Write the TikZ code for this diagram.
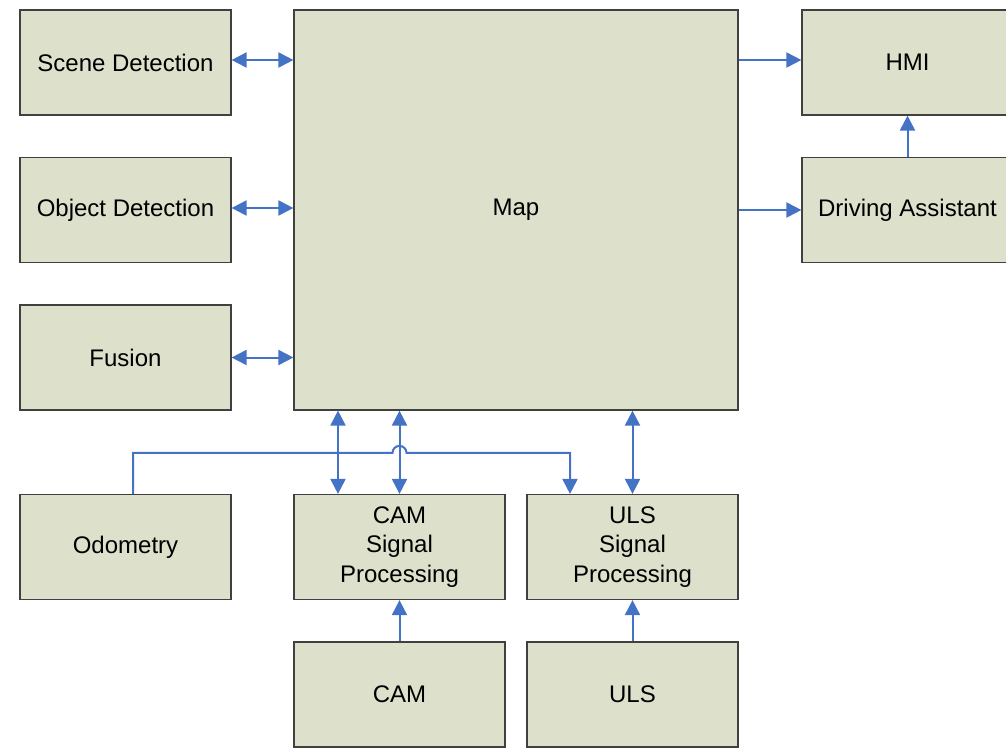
\documentclass[tikz,border=0pt]{standalone}
\usepackage{fontspec}
\setmainfont{Liberation Sans}
\usetikzlibrary{arrows.meta,calc}
\definecolor{boxfill}{RGB}{221,224,203}
\definecolor{boxline}{RGB}{64,64,64}
\definecolor{arrowblue}{RGB}{68,114,196}
\tikzset{
  blk/.style={draw=boxline, fill=boxfill, line width=1.2pt, inner sep=0pt,
    minimum width=211pt, minimum height=105pt, align=center,
    font=\fontsize{24}{29.5}\selectfont},
  conn/.style={draw=arrowblue, line width=2pt},
  one/.style={conn, -{Triangle[length=15pt,width=15pt]}},
  two/.style={conn, {Triangle[length=15pt,width=15pt]}-{Triangle[length=15pt,width=15pt]}},
}
\begin{document}
\begin{tikzpicture}[x=1pt,y=-1pt]
\useasboundingbox (0,0) rectangle (1006,748);
\clip (0,0) rectangle (1006,748);
\node[blk] (scene) at (125.5,62.5) {Scene Detection};
\node[blk] (obj) at (125.5,210) {Object Detection};
\node[blk] (fus) at (125.5,357.5) {Fusion};
\node[blk, minimum width=444pt, minimum height=400pt] (map) at (516,210) {Map};
\node[blk] (hmi) at (907.5,62.5) {HMI};
\node[blk] (da) at (907.5,210) {Driving Assistant};
\node[blk] (odo) at (125.5,547) {Odometry};
\node[blk] (camsp) at (399.5,547) {CAM\\Signal\\Processing};
\node[blk] (ulssp) at (632.5,547) {ULS\\Signal\\Processing};
\node[blk] (cam) at (399.5,694.5) {CAM};
\node[blk] (uls) at (632.5,694.5) {ULS};
% left bidirectional
\draw[two] ([yshift=2.5pt]scene.east) -- ([yshift=2.5pt]scene.east -| map.west);
\draw[two] ([yshift=2pt]obj.east) -- ([yshift=2pt]obj.east -| map.west);
\draw[two] (fus.east) -- (fus.east -| map.west);
% right
\draw[one] ([yshift=2.5pt]hmi.west -| map.east) -- ([yshift=2.5pt]hmi.west);
\draw[one] (da.west -| map.east) -- (da.west);
\draw[one] (da.north) -- (hmi.south);
% bottom
\draw[two] ([xshift=-61.5pt]camsp.north |- map.south) -- ([xshift=-61.5pt]camsp.north);
\draw[two] (camsp.north |- map.south) -- (camsp.north);
\draw[two] (ulssp.north |- map.south) -- (ulssp.north);
\draw[one] (cam.north) -- (camsp.south);
\draw[one] (uls.north) -- (ulssp.south);
% odometry line with hop
\coordinate (odoup) at ([xshift=7.5pt]odo.north);
\coordinate (hopL) at ($(camsp.north)+(-7,-41)$);
\draw[one] (odoup) -- ++(0,-41) -- (hopL)
  arc[start angle=180, end angle=0, radius=7pt]
  -- ([xshift=-62.5pt]ulssp.north |- hopL) -- ([xshift=-62.5pt]ulssp.north);
\end{tikzpicture}
\end{document}
